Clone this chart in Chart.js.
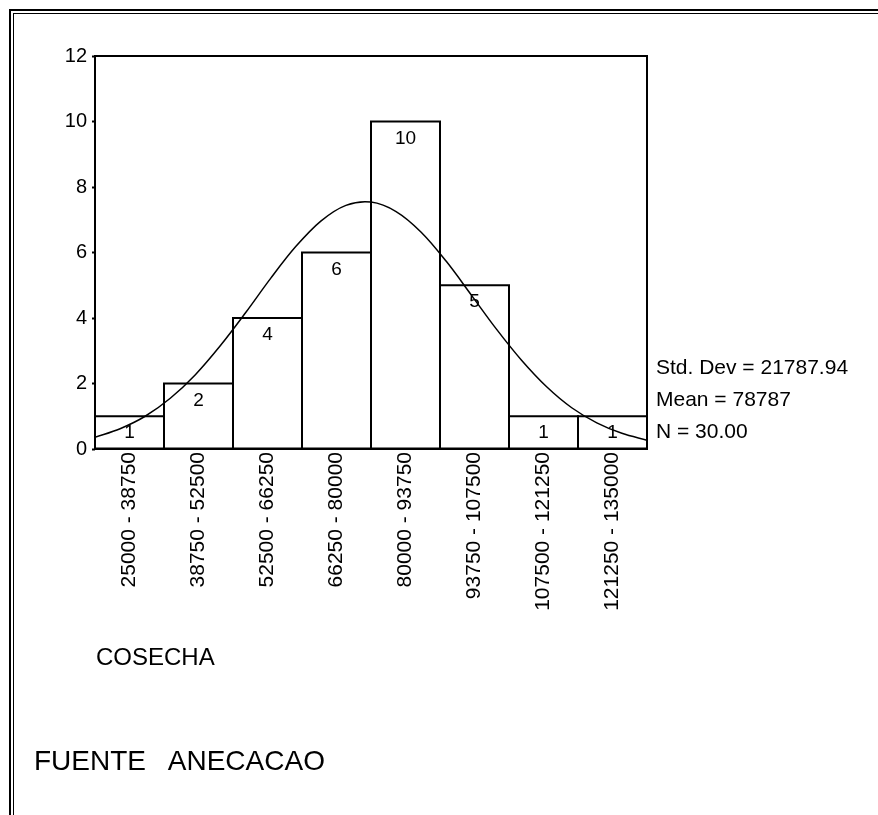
<!DOCTYPE html>
<html>
<head>
<meta charset="utf-8">
<script src="https://cdn.jsdelivr.net/npm/chart.js@4.4.1/dist/chart.umd.min.js"></script>
<style>
  body { margin: 0; background: #fff; font-family: "Liberation Sans", Arial, sans-serif; color: #000; }
  #wrap { position: relative; width: 878px; height: 815px; overflow: hidden; }
  #chart { position: absolute; left: 0; top: 0; }
  .frame1 { position: absolute; left: 9px; top: 9px; width: 900px; height: 900px; border-left: 2px solid #000; border-top: 2px solid #000; }
  .frame2 { position: absolute; left: 13px; top: 13px; width: 900px; height: 900px; border-left: 1px solid #000; border-top: 1px solid #000; }
  .txt { position: absolute; white-space: pre; line-height: 1; }
</style>
</head>
<body>
<div id="wrap">
  <div class="frame1"></div>
  <div class="frame2"></div>
  <canvas id="chart" width="878" height="815"></canvas>
  <div class="txt" style="left:656px; top:356px; font-size:21px;">Std. Dev = 21787.94</div>
  <div class="txt" style="left:656px; top:388px; font-size:21px;">Mean = 78787</div>
  <div class="txt" style="left:656px; top:420px; font-size:21px;">N = 30.00</div>
  <div class="txt" style="left:96px; top:645px; font-size:24px;">COSECHA</div>
  <div class="txt" style="left:34px; top:747px; font-size:28px;">FUENTE   ANECACAO</div>
</div>
<script>
  const binLabels = ["25000 - 38750", "38750 - 52500", "52500 - 66250", "66250 - 80000",
                     "80000 - 93750", "93750 - 107500", "107500 - 121250", "121250 - 135000"];
  const counts = [1, 2, 4, 6, 10, 5, 1, 1];
  // normal curve
  const curveX = [25000, 30000, 35000, 40000, 45000, 50000, 55000, 60000, 65000, 70000, 75000, 80000,
                  85000, 90000, 95000, 100000, 105000, 110000, 115000, 120000, 125000, 130000, 135000];
  const curveY = [0.36, 0.62, 1.00, 1.55, 2.27, 3.16, 4.16, 5.21, 6.18, 6.96, 7.44, 7.54,
                  7.25, 6.62, 5.73, 4.70, 3.66, 2.71, 1.90, 1.26, 0.80, 0.48, 0.27];
  const yTicks = [0, 2, 4, 6, 8, 10, 12];

  const framePlugin = {
    id: 'frame',
    afterDatasetDraw(chart, args) {
      if (args.index !== 1) return;
      const ctx = chart.ctx;
      ctx.save();
      ctx.strokeStyle = '#000';
      ctx.lineWidth = 2;
      ctx.fillStyle = '#000';
      ctx.font = '19px "Liberation Sans", Arial, sans-serif';
      ctx.textAlign = 'center';
      ctx.textBaseline = 'middle';
      args.meta.data.forEach(function (bar, i) {
        const w = bar.width;
        ctx.strokeRect(bar.x - w / 2, bar.y, w, bar.base - bar.y);
        ctx.fillText(String(counts[i]), bar.x, bar.y + 17);
      });
      ctx.restore();
    },
    afterDatasetsDraw(chart) {
      const ctx = chart.ctx;
      const a = chart.chartArea;
      ctx.save();
      ctx.strokeStyle = '#000';
      ctx.lineWidth = 2;
      ctx.strokeRect(a.left, a.top, a.right - a.left, a.bottom - a.top);
      ctx.restore();
    }
  };

  const ctx = document.getElementById('chart').getContext('2d');
  new Chart(ctx, {
    type: 'bar',
    data: {
      labels: binLabels,
      datasets: [
        {
          type: 'line',
          data: curveX.map(function (x, i) { return { x: x, y: curveY[i] }; }),
          xAxisID: 'x2',
          yAxisID: 'y',
          borderColor: '#000',
          borderWidth: 1.5,
          pointRadius: 0,
          tension: 0.35,
          fill: false,
          order: 0
        },
        {
          type: 'bar',
          data: counts,
          xAxisID: 'x',
          yAxisID: 'y',
          backgroundColor: '#fff',
          borderWidth: 0,
          grouped: false,
          categoryPercentage: 1,
          barPercentage: 1,
          order: 1
        }
      ]
    },
    options: {
      responsive: false,
      animation: false,
      devicePixelRatio: 1,
      layout: { padding: { left: 0, top: 56, right: 231, bottom: 0 } },
      plugins: { legend: { display: false }, tooltip: { enabled: false } },
      scales: {
        x: {
          type: 'category',
          offset: true,
          grid: { display: false, drawTicks: false },
          border: { display: false },
          ticks: {
            autoSkip: false,
            maxRotation: 90,
            minRotation: 90,
            padding: 3,
            color: '#000',
            font: { family: '"Liberation Sans", Arial, sans-serif', size: 21 }
          },
          afterFit: function (scale) { scale.height = 815 - 449; }
        },
        x2: {
          type: 'linear',
          display: false,
          offset: false,
          min: 25000,
          max: 135000
        },
        y: {
          min: 0,
          max: 12,
          afterBuildTicks: function (scale) {
            scale.ticks = yTicks.map(function (v) { return { value: v }; });
          },
          grid: { drawOnChartArea: false, drawTicks: true, tickLength: 3, tickWidth: 2, color: '#000' },
          border: { display: false },
          ticks: {
            padding: 5,
            color: '#000',
            font: { family: '"Liberation Sans", Arial, sans-serif', size: 20 }
          },
          afterFit: function (scale) { scale.width = 95; }
        }
      }
    },
    plugins: [framePlugin]
  });
</script>
</body>
</html>
